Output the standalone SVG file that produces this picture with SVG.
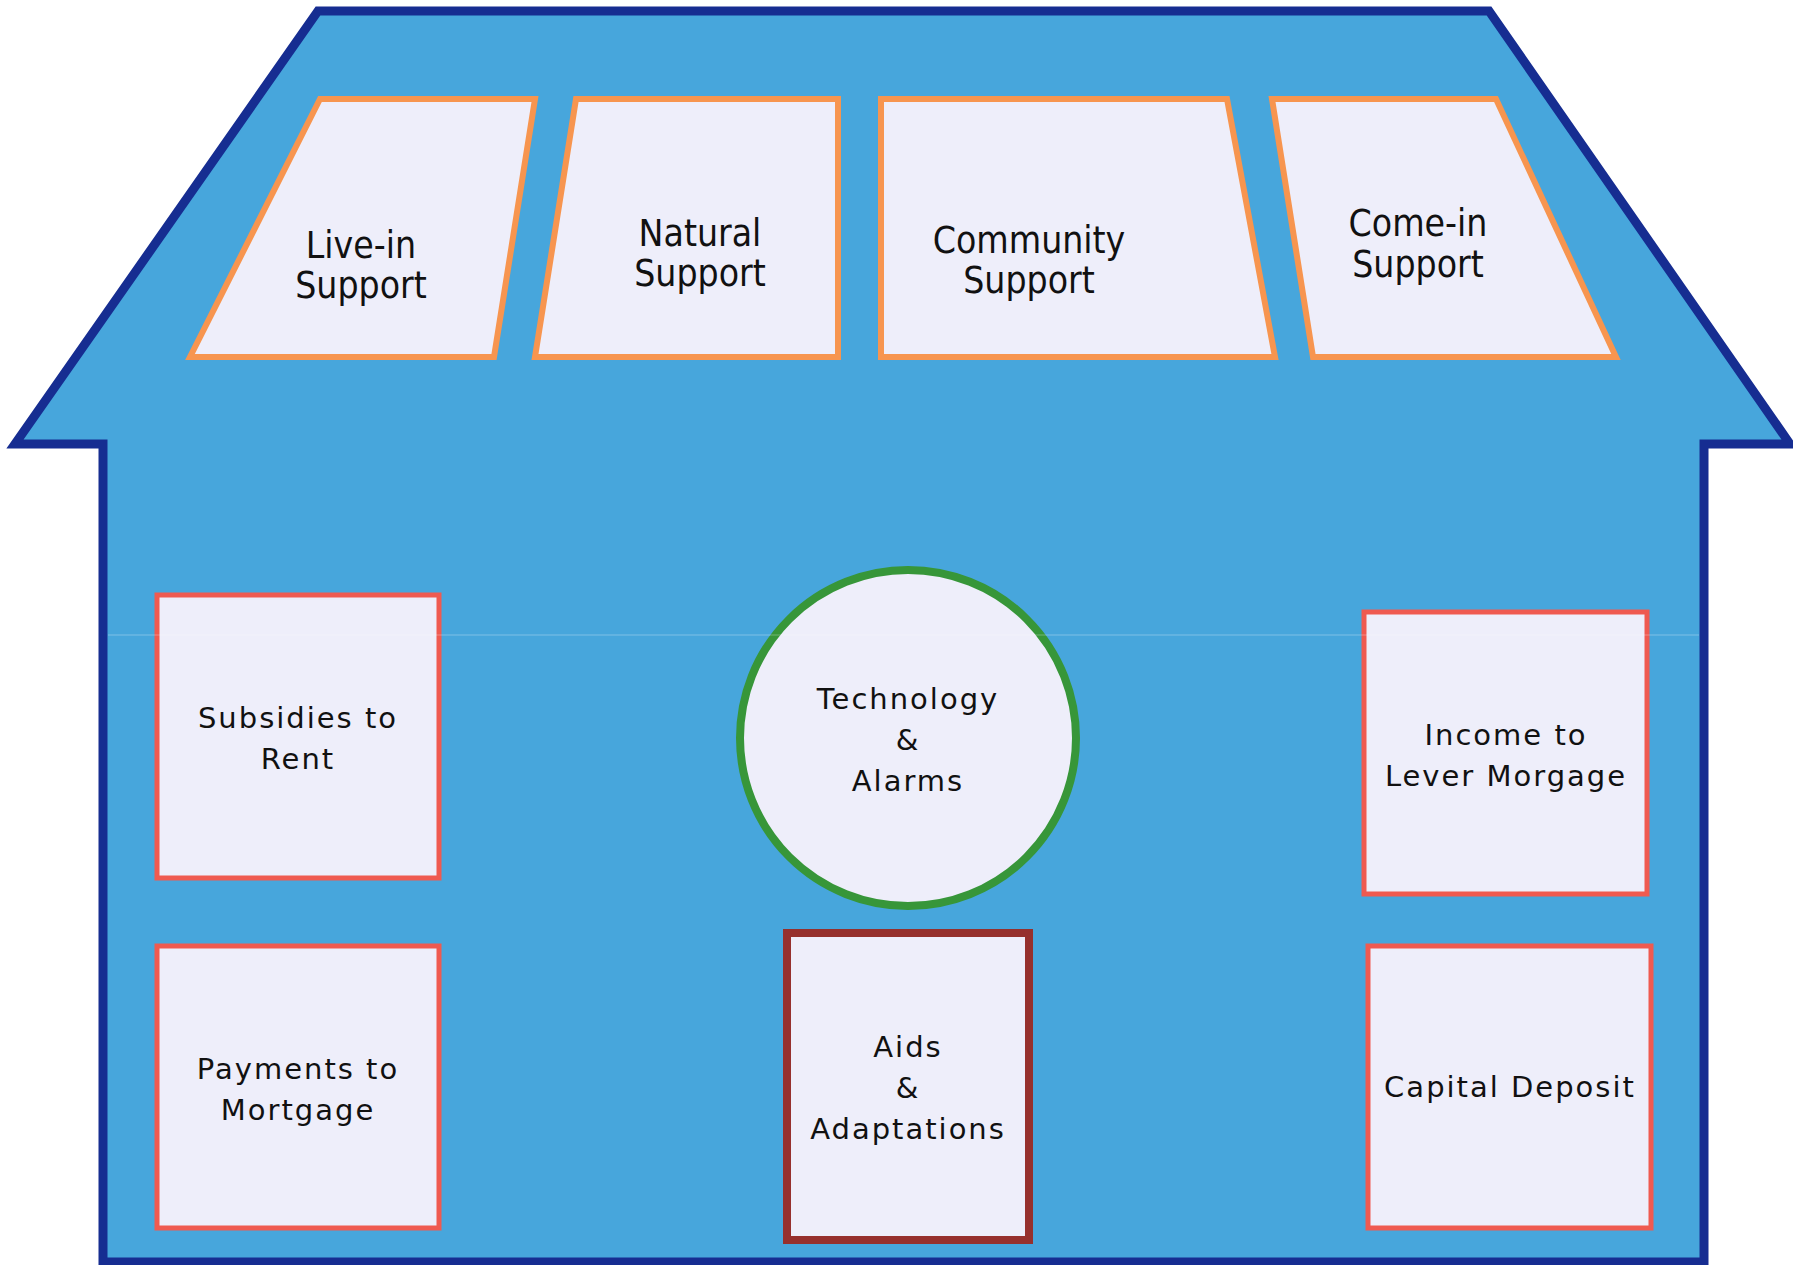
<svg xmlns="http://www.w3.org/2000/svg" width="1793" height="1265" viewBox="0 0 1793 1265">
<style>
.house{fill:#47A6DC;stroke:#162D91;stroke-width:9;stroke-linejoin:miter}
.roofbox{fill:#EEEEFA;stroke:#F7954F;stroke-width:6}
.box{fill:#EEEEFA;stroke:#EF5A50;stroke-width:5}
.aids{fill:#EEEEFA;stroke:#96302D;stroke-width:8}
.circ{fill:#EEEEFA;stroke:#379639;stroke-width:8}
.t{font-family:"DejaVu Sans","Liberation Sans",sans-serif;font-size:29px;letter-spacing:2px;fill:#111;text-anchor:middle}
.tr{font-family:"DejaVu Sans Condensed","DejaVu Sans","Liberation Sans",sans-serif;font-size:37px;fill:#111;text-anchor:middle}
</style>
<rect width="1793" height="1265" fill="#ffffff"/>
<g id="house">
<path class="house" d="M318,11 L1489,11 L1790,444 L1704,444 L1704,1262 L103,1262 L103,444 L15,444 Z"/>
</g>
<g id="live-in-support">
<polygon class="roofbox" points="320,99 535,99 494,357 190,357"/>
<text class="tr" x="361" y="258">Live-in</text>
<text class="tr" x="361" y="298">Support</text>
</g>
<g id="natural-support">
<polygon class="roofbox" points="576,99 838,99 838,357 535,357"/>
<text class="tr" x="700" y="246">Natural</text>
<text class="tr" x="700" y="286">Support</text>
</g>
<g id="community-support">
<polygon class="roofbox" points="881,99 1227,99 1275,357 881,357"/>
<text class="tr" x="1029" y="253">Community</text>
<text class="tr" x="1029" y="293">Support</text>
</g>
<g id="come-in-support">
<polygon class="roofbox" points="1272,99 1496,99 1616,357 1313,357"/>
<text class="tr" x="1418" y="236">Come-in</text>
<text class="tr" x="1418" y="277">Support</text>
</g>
<g id="subsidies-to-rent">
<rect class="box" x="157" y="595" width="282" height="283"/>
<text class="t" x="298" y="728">Subsidies to</text>
<text class="t" x="298" y="769">Rent</text>
</g>
<g id="payments-to-mortgage">
<rect class="box" x="157" y="946" width="282" height="282"/>
<text class="t" x="298" y="1079">Payments to</text>
<text class="t" x="298" y="1120">Mortgage</text>
</g>
<g id="technology-alarms">
<circle class="circ" cx="908" cy="738" r="168"/>
<text class="t" x="908" y="709">Technology</text>
<text class="t" x="908" y="750">&amp;</text>
<text class="t" x="908" y="791">Alarms</text>
</g>
<g id="aids-adaptations">
<rect class="aids" x="787" y="933" width="242" height="307"/>
<text class="t" x="908" y="1057">Aids</text>
<text class="t" x="908" y="1098">&amp;</text>
<text class="t" x="908" y="1139">Adaptations</text>
</g>
<g id="income-to-lever-morgage">
<rect class="box" x="1364" y="612" width="283" height="282"/>
<text class="t" x="1506" y="745">Income to</text>
<text class="t" x="1506" y="786">Lever Morgage</text>
</g>
<g id="capital-deposit">
<rect class="box" x="1368" y="946" width="283" height="282"/>
<text class="t" x="1510" y="1097">Capital Deposit</text>
</g>
<g id="connectors"></g>
<line x1="108" y1="635" x2="1699" y2="635" stroke="#ffffff" stroke-opacity="0.3" stroke-width="1"/>
</svg>
